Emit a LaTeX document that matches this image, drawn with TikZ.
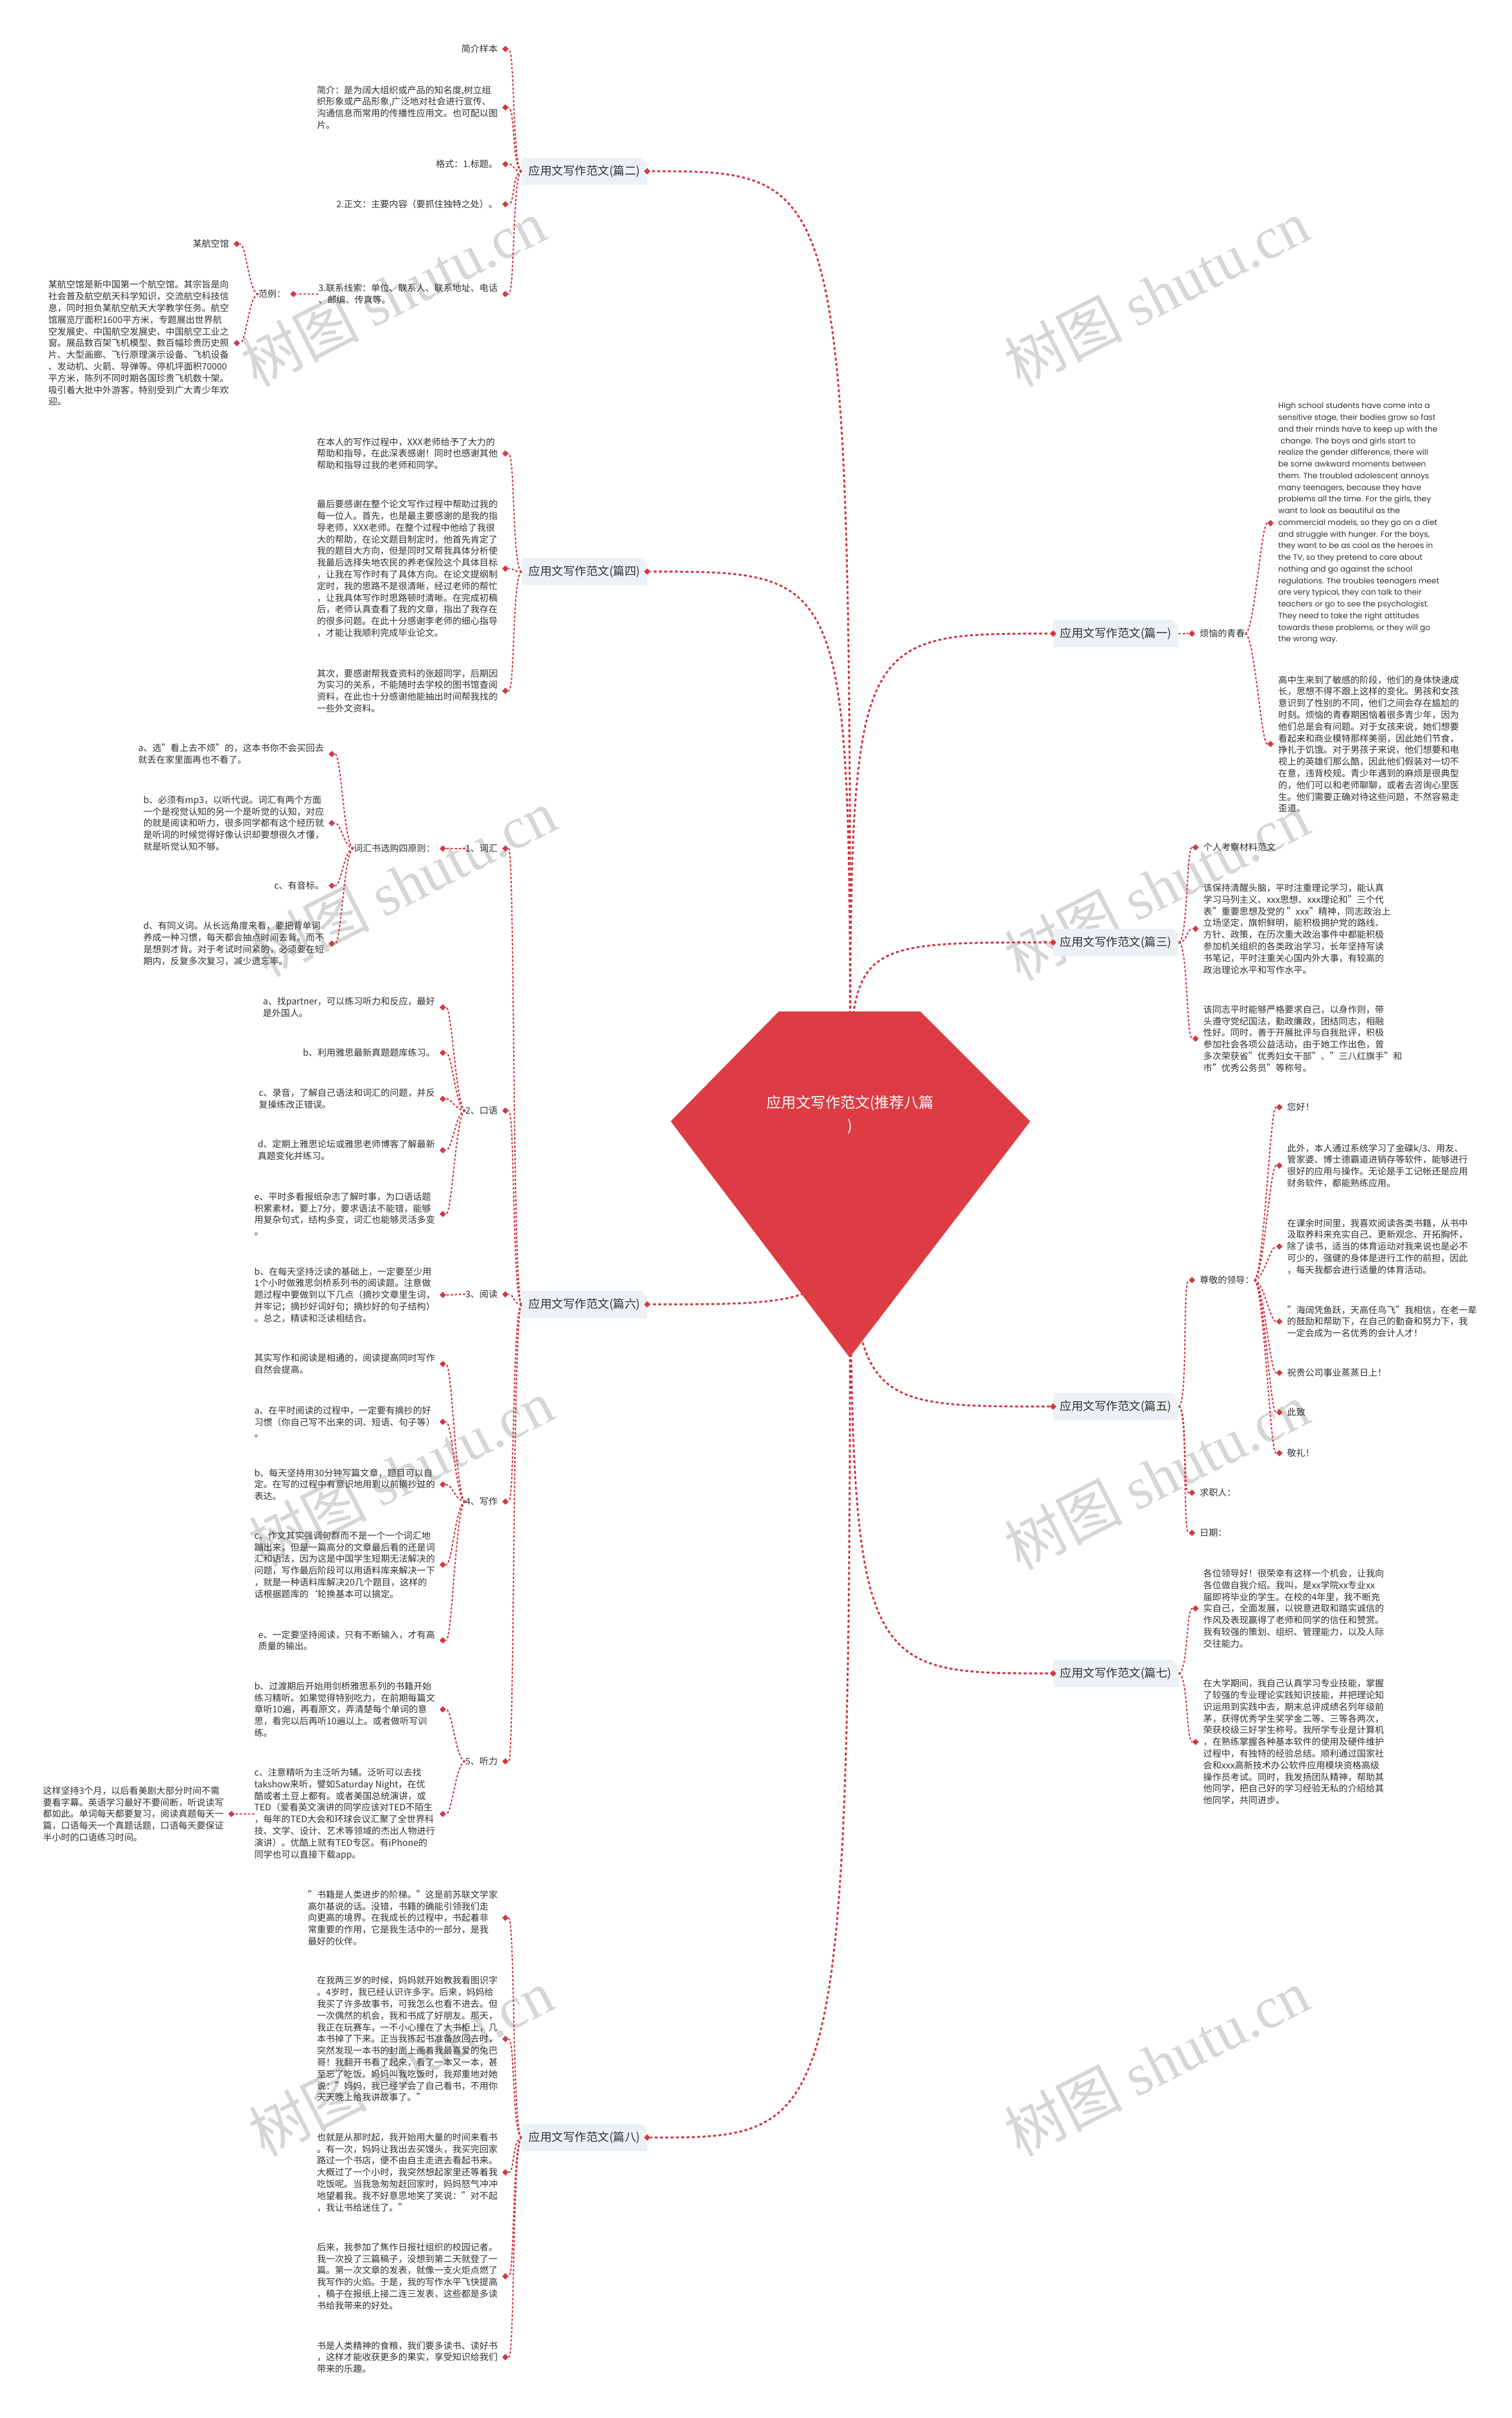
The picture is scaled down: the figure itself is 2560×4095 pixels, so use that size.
\documentclass[tikz,border=0pt]{standalone}
\usepackage{fontspec}
\setmainfont{Noto Sans CJK SC}
\newfontfamily\enfont{Poppins}
\newfontfamily\wmlat{Liberation Serif}
\usetikzlibrary{shapes.geometric,shapes.misc,calc}
\pgfdeclarelayer{wmlayer}
\pgfdeclarelayer{bglayer}
\pgfsetlayers{wmlayer,bglayer,main}
\definecolor{lnred}{RGB}{212,56,66}
\definecolor{rootred}{RGB}{221,60,68}
\definecolor{boxbg}{RGB}{236,241,245}
\definecolor{txt}{RGB}{48,48,48}
\tikzset{
  leafL/.style={anchor=east,inner sep=0pt,align=left,text=txt,font=\fontsize{15.3}{19.8}\selectfont},
  leafR/.style={anchor=west,inner sep=0pt,align=left,text=txt,font=\fontsize{15.3}{19.8}\selectfont},
  dia/.style={diamond,fill=lnred,inner sep=0pt,minimum width=11pt,minimum height=11pt},
  branch/.style={chamfered rectangle,chamfered rectangle corners=north east,chamfered rectangle xsep=5pt,chamfered rectangle ysep=5pt,fill=boxbg,minimum width=212pt,minimum height=46pt,inner sep=0pt,text=txt,font=\fontsize{19.5}{22}\selectfont},
  rootlink/.style={draw=lnred,line width=3.2pt,dash pattern=on 5pt off 4pt},
  leaflink/.style={draw=lnred,line width=2.2pt,dash pattern=on 4pt off 3pt},
  wmark/.style={text=black!16,rotate=27,font=\fontsize{100}{100}\selectfont}
}
\newcommand\dL[1]{\node[dia] (#1-d) at ([xshift=13pt]#1.east) {};}
\newcommand\dR[1]{\node[dia] (#1-d) at ([xshift=-13pt]#1.west) {};}
\newcommand\lnkL[2]{\draw[leaflink] (#1) .. controls +(-16,0) and +(16,0) .. (#2);}
\newcommand\lnkR[2]{\draw[leaflink] (#1) .. controls +(16,0) and +(-16,0) .. (#2);}
\newcommand\rlnk[2]{\draw[rootlink] (root.center) .. controls (root.center |- #1) and (root.center |- #1) .. (#2);}
\begin{document}
\begin{tikzpicture}[x=1pt,y=-1pt]
\useasboundingbox (0,0) rectangle (2560,4095);
\begin{pgfonlayer}{wmlayer}
\fill[white] (0,0) rectangle (2560,4095);
\foreach \wx/\wy [count=\i] in {666/496,1959/496,684/1495,1959/1502,679/2494,1959/2500,679/3493,1959/3493}{
  \node[wmark] (wm\i) at (\wx,\wy) {树图 {\wmlat shutu.cn}};
}
\end{pgfonlayer}

% ---------- root ----------
\fill[rootred] (1319,1713) -- (1559,1713) -- (1745,1899) -- (1439,2299) -- (1136,1899) -- cycle;
\node[text=white,align=center,font=\fontsize{25}{39}\selectfont] (root) at (1440,1888) {应用文写作范文(推荐八篇\\)};

% ---------- branches ----------
\node[branch] (b2) at (990,290) {应用文写作范文(篇二)};
\node[branch] (b4) at (990,968) {应用文写作范文(篇四)};
\node[branch] (b6) at (990,2209) {应用文写作范文(篇六)};
\node[branch] (b8) at (990,3620) {应用文写作范文(篇八)};
\node[branch] (b1) at (1890,1073) {应用文写作范文(篇一)};
\node[branch] (b3) at (1890,1596) {应用文写作范文(篇三)};
\node[branch] (b5) at (1890,2382) {应用文写作范文(篇五)};
\node[branch] (b7) at (1890,2834) {应用文写作范文(篇七)};
\foreach \b in {b2,b4,b6,b8}{\node[dia] (\b-d) at (\b.east) {};}
\foreach \b in {b1,b3,b5,b7}{\node[dia] (\b-d) at (\b.west) {};}

% ---------- 篇二 ----------
\node[leafL] (n2a) at (843,83) {简介样本};
\node[leafL] (n2b) at (843,182) {简介：是为阔大组织或产品的知名度,树立组\\织形象或产品形象,广泛地对社会进行宣传、\\沟通信息而常用的传播性应用文。也可配以图\\片。};
\node[leafL] (n2c) at (843,278) {格式：1.标题。};
\node[leafL] (n2d) at (843,346) {2.正文：主要内容（要抓住独特之处）。};
\node[leafL] (n2e) at (843,498) {3.联系线索：单位、联系人、联系地址、电话\\、邮编、传真等。};
\node[leafL] (n2f) at (484,498) {范例：};
\node[leafL] (n2g) at (388,413) {某航空馆};
\node[leafL] (n2h) at (388,581) {某航空馆是新中国第一个航空馆。其宗旨是向\\社会普及航空航天科学知识，交流航空科技信\\息，同时担负某航空航天大学教学任务。航空\\馆展览厅面积1600平方米，专题展出世界航\\空发展史、中国航空发展史、中国航空工业之\\窗。展品数百架飞机模型、数百幅珍贵历史照\\片、大型画廊、飞行原理演示设备、飞机设备\\、发动机、火箭、导弹等。停机坪面积70000\\平方米，陈列不同时期各国珍贵飞机数十架。\\吸引着大批中外游客，特别受到广大青少年欢\\迎。};
\foreach \n in {n2a,n2b,n2c,n2d,n2e,n2f,n2g,n2h}{\dL{\n}}

% ---------- 篇四 ----------
\node[leafL] (n4a) at (843,768) {在本人的写作过程中，XXX老师给予了大力的\\帮助和指导，在此深表感谢！同时也感谢其他\\帮助和指导过我的老师和同学。};
\node[leafL] (n4b) at (843,963) {最后要感谢在整个论文写作过程中帮助过我的\\每一位人。首先，也是最主要感谢的是我的指\\导老师，XXX老师。在整个过程中他给了我很\\大的帮助，在论文题目制定时，他首先肯定了\\我的题目大方向，但是同时又帮我具体分析使\\我最后选择失地农民的养老保险这个具体目标\\，让我在写作时有了具体方向。在论文提纲制\\定时，我的思路不是很清晰，经过老师的帮忙\\，让我具体写作时思路顿时清晰。在完成初稿\\后，老师认真查看了我的文章，指出了我存在\\的很多问题。在此十分感谢李老师的细心指导\\，才能让我顺利完成毕业论文。};
\node[leafL] (n4c) at (843,1170) {其次，要感谢帮我查资料的张超同学，后期因\\为实习的关系，不能随时去学校的图书馆查阅\\资料，在此也十分感谢他能抽出时间帮我找的\\一些外文资料。};
\foreach \n in {n4a,n4b,n4c}{\dL{\n}}

% ---------- 篇六 ----------
\node[leafL] (s1) at (843,1437) {1、词汇};
\node[leafL] (s2) at (843,1881) {2、口语};
\node[leafL] (s3) at (843,2192) {3、阅读};
\node[leafL] (s4) at (843,2543) {4、写作};
\node[leafL] (s5) at (843,2983) {5、听力};
\node[leafL] (v0) at (737,1437) {词汇书选购四原则：};
\node[leafL] (v1) at (549,1277) {a、选"看上去不烦"的，这本书你不会买回去\\就丢在家里面再也不看了。};
\node[leafL] (v2) at (549,1394) {b、必须有mp3，以听代说。词汇有两个方面\\一个是视觉认知的另一个是听觉的认知，对应\\的就是阅读和听力，很多同学都有这个经历就\\是听词的时候觉得好像认识却要想很久才懂，\\就是听觉认知不够。};
\node[leafL] (v3) at (549,1500) {c、有音标。};
\node[leafL] (v4) at (549,1598) {d、有同义词。从长远角度来看，要把背单词\\养成一种习惯，每天都会抽点时间去背。而不\\是想到才背。对于考试时间紧的，必须要在短\\期内，反复多次复习，减少遗忘率。};
\node[leafL] (k1) at (737,1706) {a、找partner，可以练习听力和反应，最好\\是外国人。};
\node[leafL] (k2) at (737,1783) {b、利用雅思最新真题题库练习。};
\node[leafL] (k3) at (737,1861) {c、录音，了解自己语法和词汇的问题，并反\\复操练改正错误。};
\node[leafL] (k4) at (737,1948) {d、定期上雅思论坛或雅思老师博客了解最新\\真题变化并练习。};
\node[leafL] (k5) at (737,2056) {e、平时多看报纸杂志了解时事，为口语话题\\积累素材。要上7分，要求语法不能错，能够\\用复杂句式，结构多变，词汇也能够灵活多变\\。};
\node[leafL] (r1) at (737,2193) {b、在每天坚持泛读的基础上，一定要至少用\\1个小时做雅思剑桥系列书的阅读题。注意做\\题过程中要做到以下几点（摘抄文章里生词，\\并牢记；摘抄好词好句；摘抄好的句子结构）\\。总之，精读和泛读相结合。};
\node[leafL] (w1) at (737,2310) {其实写作和阅读是相通的，阅读提高同时写作\\自然会提高。};
\node[leafL] (w2) at (737,2408) {a、在平时阅读的过程中，一定要有摘抄的好\\习惯（你自己写不出来的词、短语、句子等）\\。};
\node[leafL] (w3) at (737,2514) {b、每天坚持用30分钟写篇文章，题目可以自\\定。在写的过程中有意识地用到以前摘抄过的\\表达。};
\node[leafL] (w4) at (737,2650) {c、作文其实强调句群而不是一个一个词汇地\\蹦出来，但是一篇高分的文章最后看的还是词\\汇和语法，因为这是中国学生短期无法解决的\\问题，写作最后阶段可以用语料库来解决一下\\，就是一种语料库解决20几个题目，这样的\\话根据题库的\symbol{96}轮换基本可以搞定。};
\node[leafL] (w5) at (737,2778) {e、一定要坚持阅读，只有不断输入，才有高\\质量的输出。};
\node[leafL] (t1) at (737,2895) {b、过渡期后开始用剑桥雅思系列的书籍开始\\练习精听。如果觉得特别吃力，在前期每篇文\\章听10遍，再看原文，弄清楚每个单词的意\\思，看完以后再听10遍以上。或者做听写训\\练。};
\node[leafL] (t2) at (737,3072) {c、注意精听为主泛听为辅。泛听可以去找\\takshow来听，譬如Saturday Night，在优\\酷或者土豆上都有。或者美国总统演讲，或\\TED（爱看英文演讲的同学应该对TED不陌生\\，每年的TED大会和环球会议汇聚了全世界科\\技、文学、设计、艺术等领域的杰出人物进行\\演讲）。优酷上就有TED专区。有iPhone的\\同学也可以直接下载app。};
\node[leafL] (t3) at (379,3072) {这样坚持3个月，以后看美剧大部分时间不需\\要看字幕。英语学习最好不要间断，听说读写\\都如此。单词每天都要复习，阅读真题每天一\\篇，口语每天一个真题话题，口语每天要保证\\半小时的口语练习时间。};
\foreach \n in {s1,s2,s3,s4,s5,v0,v1,v2,v3,v4,k1,k2,k3,k4,k5,r1,w1,w2,w3,w4,w5,t1,t2,t3}{\dL{\n}}

% ---------- 篇八 ----------
\node[leafL] (e1) at (843,3248) {"书籍是人类进步的阶梯。"这是前苏联文学家\\高尔基说的话。没错，书籍的确能引领我们走\\向更高的境界。在我成长的过程中，书起着非\\常重要的作用，它是我生活中的一部分，是我\\最好的伙伴。};
\node[leafL] (e2) at (843,3453) {在我两三岁的时候，妈妈就开始教我看图识字\\。4岁时，我已经认识许多字。后来，妈妈给\\我买了许多故事书，可我怎么也看不进去。但\\一次偶然的机会，我和书成了好朋友。那天，\\我正在玩赛车，一不小心撞在了大书柜上，几\\本书掉了下来。正当我拣起书准备放回去时，\\突然发现一本书的封面上画着我最喜爱的兔巴\\哥！我翻开书看了起来，看了一本又一本，甚\\至忘了吃饭。妈妈叫我吃饭时，我郑重地对她\\说："妈妈，我已经学会了自己看书，不用你\\天天晚上给我讲故事了。"};
\node[leafL] (e3) at (843,3679) {也就是从那时起，我开始用大量的时间来看书\\。有一次，妈妈让我出去买馒头，我买完回家\\路过一个书店，便不由自主走进去看起书来。\\大概过了一个小时，我突然想起家里还等着我\\吃饭呢。当我急匆匆赶回家时，妈妈怒气冲冲\\地望着我。我不好意思地笑了笑说："对不起\\，我让书给迷住了。"};
\node[leafL] (e4) at (843,3855) {后来，我参加了焦作日报社组织的校园记者。\\我一次投了三篇稿子，没想到第二天就登了一\\篇。第一次文章的发表，就像一支火炬点燃了\\我写作的火焰。于是，我的写作水平飞快提高\\，稿子在报纸上接二连三发表，这些都是多读\\书给我带来的好处。};
\node[leafL] (e5) at (843,3992) {书是人类精神的食粮，我们要多读书、读好书\\，这样才能收获更多的果实，享受知识给我们\\带来的乐趣。};
\foreach \n in {e1,e2,e3,e4,e5}{\dL{\n}}

% ---------- 篇一 ----------
\node[leafR] (o0) at (2032,1073) {烦恼的青春};
\node[leafR,font=\enfont\fontsize{13.2}{19.75}\selectfont] (o1) at (2165,886) {High school students have come into a\\sensitive stage, their bodies grow so fast\\and their minds have to keep up with the\\\hspace{4pt}change. The boys and girls start to\\realize the gender difference, there will\\be some awkward moments between\\them. The troubled adolescent annoys\\many teenagers, because they have\\problems all the time. For the girls, they\\want to look as beautiful as the\\commercial models, so they go on a diet\\and struggle with hunger. For the boys,\\they want to be as cool as the heroes in\\the TV, so they pretend to care about\\nothing and go against the school\\regulations. The troubles teenagers meet\\are very typical, they can talk to their\\teachers or go to see the psychologist.\\They need to take the right attitudes\\towards these problems, or they will go\\the wrong way.};
\node[leafR] (o2) at (2165,1260) {高中生来到了敏感的阶段，他们的身体快速成\\长，思想不得不跟上这样的变化。男孩和女孩\\意识到了性别的不同，他们之间会存在尴尬的\\时刻。烦恼的青春期困恼着很多青少年，因为\\他们总是会有问题。对于女孩来说，她们想要\\看起来和商业模特那样美丽，因此她们节食，\\挣扎于饥饿。对于男孩子来说，他们想要和电\\视上的英雄们那么酷，因此他们假装对一切不\\在意，违背校规。青少年遇到的麻烦是很典型\\的，他们可以和老师聊聊，或者去咨询心里医\\生。他们需要正确对待这些问题，不然容易走\\歪道。};
\foreach \n in {o0,o1,o2}{\dR{\n}}

% ---------- 篇三 ----------
\node[leafR] (p1) at (2038,1435) {个人考察材料范文};
\node[leafR] (p2) at (2038,1573) {该保持清醒头脑，平时注重理论学习，能认真\\学习马列主义、xxx思想、xxx理论和"三个代\\表"重要思想及党的 "xxx"精神，同志政治上\\立场坚定，旗帜鲜明，能积极拥护党的路线、\\方针、政策，在历次重大政治事件中都能积极\\参加机关组织的各类政治学习，长年坚持写读\\书笔记，平时注重关心国内外大事，有较高的\\政治理论水平和写作水平。};
\node[leafR] (p3) at (2038,1759) {该同志平时能够严格要求自己，以身作则，带\\头遵守党纪国法，勤政廉政，团结同志，相融\\性好。同时，善于开展批评与自我批评，积极\\参加社会各项公益活动，由于她工作出色，曾\\多次荣获省"优秀妇女干部"、"三八红旗手"和\\市"优秀公务员"等称号。};
\foreach \n in {p1,p2,p3}{\dR{\n}}

% ---------- 篇五 ----------
\node[leafR] (f0) at (2032,2168) {尊敬的领导：};
\node[leafR] (f8) at (2032,2528) {求职人：};
\node[leafR] (f9) at (2032,2596) {日期：};
\node[leafR] (f1) at (2180,1875) {您好！};
\node[leafR] (f2) at (2180,1974) {此外，本人通过系统学习了金碟k/3、用友、\\管家婆、博士德霸道进销存等软件，能够进行\\很好的应用与操作。无论是手工记帐还是应用\\财务软件，都能熟练应用。};
\node[leafR] (f3) at (2180,2111) {在课余时间里，我喜欢阅读各类书籍，从书中\\汲取养料来充实自己、更新观念、开拓胸怀，\\除了读书，适当的体育运动对我来说也是必不\\可少的，强健的身体是进行工作的前担，因此\\，每天我都会进行适量的体育活动。};
\node[leafR] (f4) at (2180,2238) {"海阔凭鱼跃，天高任鸟飞"我相信，在老一辈\\的鼓励和帮助下，在自己的勤奋和努力下，我\\一定会成为一名优秀的会计人才！};
\node[leafR] (f5) at (2180,2325) {祝贵公司事业蒸蒸日上！};
\node[leafR] (f6) at (2180,2392) {此致};
\node[leafR] (f7) at (2180,2461) {敬礼！};
\foreach \n in {f0,f1,f2,f3,f4,f5,f6,f7,f8,f9}{\dR{\n}}

% ---------- 篇七 ----------
\node[leafR] (g1) at (2038,2724) {各位领导好！很荣幸有这样一个机会，让我向\\各位做自我介绍。我叫，是xx学院xx专业xx\\届即将毕业的学生。在校的4年里，我不断充\\实自己，全面发展，以锐意进取和踏实诚信的\\作风及表现赢得了老师和同学的信任和赞赏。\\我有较强的策划、组织、管理能力，以及人际\\交往能力。};
\node[leafR] (g2) at (2038,2950) {在大学期间，我自己认真学习专业技能，掌握\\了较强的专业理论实践知识技能，并把理论知\\识运用到实践中去，期末总评成绩名列年级前\\茅，获得优秀学生奖学金二等、三等各两次，\\荣获校级三好学生称号。我所学专业是计算机\\，在熟练掌握各种基本软件的使用及硬件维护\\过程中，有独特的经验总结。顺利通过国家社\\会和xxx高新技术办公软件应用模块资格高级\\操作员考试。同时，我发扬团队精神，帮助其\\他同学，把自己好的学习经验无私的介绍给其\\他同学，共同进步。};
\foreach \n in {g1,g2}{\dR{\n}}

% ---------- connectors ----------
\begin{pgfonlayer}{bglayer}
\rlnk{b2.east}{b2-d}
\rlnk{b4.east}{b4-d}
\rlnk{b6.east}{b6-d}
\rlnk{b8.east}{b8-d}
\rlnk{b1.west}{b1-d}
\rlnk{b3.west}{b3-d}
\rlnk{b5.west}{b5-d}
\rlnk{b7.west}{b7-d}
\foreach \n in {n2a,n2b,n2c,n2d,n2e}{\lnkL{b2.west}{\n-d}}
\lnkL{n2e.west}{n2f-d}
\foreach \n in {n2g,n2h}{\lnkL{n2f.west}{\n-d}}
\foreach \n in {n4a,n4b,n4c}{\lnkL{b4.west}{\n-d}}
\foreach \n in {s1,s2,s3,s4,s5}{\lnkL{b6.west}{\n-d}}
\lnkL{s1.west}{v0-d}
\foreach \n in {v1,v2,v3,v4}{\lnkL{v0.west}{\n-d}}
\foreach \n in {k1,k2,k3,k4,k5}{\lnkL{s2.west}{\n-d}}
\lnkL{s3.west}{r1-d}
\foreach \n in {w1,w2,w3,w4,w5}{\lnkL{s4.west}{\n-d}}
\foreach \n in {t1,t2}{\lnkL{s5.west}{\n-d}}
\lnkL{t2.west}{t3-d}
\foreach \n in {e1,e2,e3,e4,e5}{\lnkL{b8.west}{\n-d}}
\lnkR{b1.east}{o0-d}
\foreach \n in {o1,o2}{\lnkR{o0.east}{\n-d}}
\foreach \n in {p1,p2,p3}{\lnkR{b3.east}{\n-d}}
\foreach \n in {f0,f8,f9}{\lnkR{b5.east}{\n-d}}
\foreach \n in {f1,f2,f3,f4,f5,f6,f7}{\lnkR{f0.east}{\n-d}}
\foreach \n in {g1,g2}{\lnkR{b7.east}{\n-d}}
\end{pgfonlayer}
\end{tikzpicture}
\end{document}
